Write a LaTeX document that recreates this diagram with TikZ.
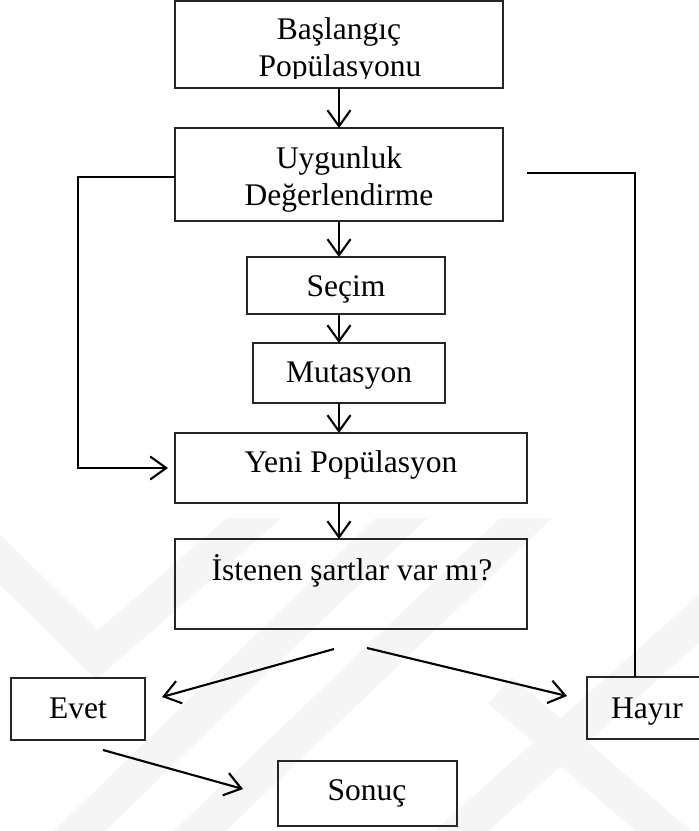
\documentclass[tikz,border=0pt]{standalone}
\usepackage{fontspec}
\setmainfont{Liberation Serif}
\usetikzlibrary{arrows.meta,calc}
\tikzset{
  box/.style={draw=black!85, line width=1.3pt, rectangle, inner sep=0pt, outer sep=0pt},
  lbl/.style={anchor=base, inner sep=0pt, font=\fontsize{31.5}{37}\selectfont},
  conn/.style={draw=black, line width=2.1pt},
  arr/.style={conn, -{Straight Barb[length=16pt,width=23pt]}},
  wm/.style={draw=black!4, line width=36pt, line join=miter}
}
\begin{document}
\begin{tikzpicture}[x=1pt,y=-1pt]
\useasboundingbox (0,0) rectangle (699,831);
\clip (0,0) rectangle (699,831);

% faint background watermark bands
\begin{scope}
  \clip (0,518) rectangle (699,831);
  \draw[wm] (-20,540) -- (97,655) -- (275,500);
  \draw[wm] (60,850) -- (420,500);
  \draw[wm] (180,850) -- (545,500);
  \draw[wm] (440,850) -- (720,600);
  \draw[wm] (500,690) -- (720,880);
\end{scope}

% boxes
\node[box, minimum width=328pt, minimum height=87pt] (b1) at (339,44.5) {};
\node[box, minimum width=328pt, minimum height=93pt] (b2) at (339,174.5) {};
\node[box, minimum width=198pt, minimum height=57pt] (sec) at (346,285.5) {};
\node[box, minimum width=192pt, minimum height=60pt] (mut) at (349,373) {};
\node[box, minimum width=352pt, minimum height=70pt] (yeni) at (351,468) {};
\node[box, minimum width=352pt, minimum height=90pt] (ist) at (351,584) {};
\node[box, minimum width=134pt, minimum height=62pt] (evet) at (78,709) {};
\node[box, minimum width=120pt, minimum height=62pt] (hayir) at (647,708) {};
\node[box, minimum width=179pt, minimum height=65pt] (sonuc) at (367.5,793.5) {};

% texts
\node[lbl] (t1a) at (339,39.5) {Başlangıç};
\begin{scope}
  \clip (180,50) rectangle (500,78.5);
  \node[lbl] (t1b) at (340,76.5) {Popülasyonu};
\end{scope}
\node[lbl] (t2a) at (339,168) {Uygunluk};
\node[lbl] (t2b) at (339,205) {Değerlendirme};
\node[lbl] (tsec) at (346,296) {Seçim};
\node[lbl] (tmut) at (349,382) {Mutasyon};
\node[lbl] (tyeni) at (351,472) {Yeni Popülasyon};
\node[lbl] (tist) at (352,580) {İstenen şartlar var mı?};
\node[lbl] (tevet) at (78,718) {Evet};
\node[lbl] (thayir) at (647,718) {Hayır};
\node[lbl] (tsonuc) at (367,800) {Sonuç};

% main flow
\draw[arr] (b1.south) -- (b2.north);
\draw[arr] (b2.south) -- (b2.south |- sec.north);
\draw[arr] (b2.south |- sec.south) -- (b2.south |- mut.north);
\draw[arr] (b2.south |- mut.south) -- (b2.south |- yeni.north);
\draw[arr] (b2.south |- yeni.south) -- (b2.south |- ist.north);

% loop back to the new population
\draw[arr] ($(b2.west)+(0,2.5)$) -- ++(-97,0) |- ($(yeni.west)+(-7,0)$);

% "Hayır" branch returning to fitness evaluation
\coordinate (fbR) at (527,173);
\draw[conn] (fbR) -| ($(hayir.north)+(-12,0)$);

% decision branches
\coordinate (dL) at (334,649);
\coordinate (dR) at (367,648);
\coordinate (eTip) at (162,697);
\coordinate (hTip) at (567,696);
\draw[arr] (dL) -- (eTip);
\draw[arr] (dR) -- (hTip);
\coordinate (eOut) at (103,750);
\coordinate (sTip) at (243,789);
\draw[arr] (eOut) -- (sTip);
\end{tikzpicture}
\end{document}
